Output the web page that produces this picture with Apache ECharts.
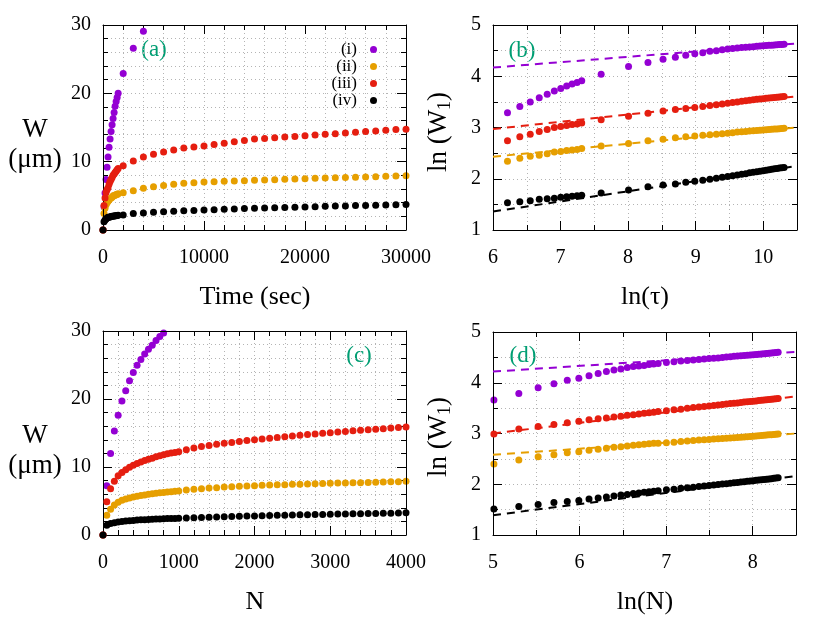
<!DOCTYPE html>
<html><head><meta charset="utf-8">
<script src="https://cdn.jsdelivr.net/npm/echarts@6/dist/echarts.min.js"></script>
<style>html,body{margin:0;padding:0;background:#fff}#c{width:830px;height:623px}</style>
</head><body><div id="c"></div>
<script>
// ---------- Panel (a): W (um) vs time (sec) ----------
const timeA = [0,100,200,300,400,500,600,700,800,900,1000,1100,1200,1300,1400,1500,
  2000,3000,4000,5000,6000,7000,8000,9000,10000,11000,12000,13000,14000,15000,
  16000,17000,18000,19000,20000,21000,22000,23000,24000,25000,26000,27000,28000,29000,30000];
const wA_i   = [0,3.4,5.4,7.4,9.2,10.7,12.1,13.3,14.4,15.4,16.3,17.2,18.1,18.8,19.4,20.0,22.9,26.6,29.1];
const wA_ii  = [0,2.4,3.2,3.7,4.0,4.2,4.4,4.6,4.7,4.8,5.0,5.0,5.1,5.2,5.2,5.3,
  5.45,5.75,6.1,6.34,6.5,6.7,6.83,6.93,7.03,7.07,7.12,7.17,7.22,7.27,7.32,7.37,7.42,7.47,7.51,7.56,7.61,7.66,7.68,7.71,7.76,7.81,7.85,7.9,7.95];
const wA_iii = [0,3.6,4.7,5.5,5.9,6.2,6.7,7.1,7.4,7.7,8.0,8.2,8.4,8.6,8.8,9.0,
  9.42,10.1,10.7,11.1,11.4,11.7,12.0,12.15,12.3,12.5,12.7,12.9,13.1,13.3,13.4,13.5,13.6,13.7,13.8,13.9,14.0,14.1,14.2,14.3,14.4,14.5,14.6,14.7,14.75];
const wA_iv  = [0,1.2,1.45,1.6,1.75,1.85,1.88,1.92,1.98,2.0,2.02,2.06,2.08,2.1,2.12,2.15,
  2.2,2.4,2.5,2.6,2.68,2.75,2.8,2.86,2.92,2.98,3.03,3.08,3.13,3.18,3.22,3.26,3.3,3.34,3.38,3.42,3.46,3.5,3.53,3.57,3.6,3.63,3.67,3.7,3.74];

// ---------- Panel (b): ln(W1) vs ln(tau) ----------
const tauB = [500,600,700,800,900,1000,1100,1200,1300,1400,1500,
  2000,3000,4000,5000,6000,7000,8000,9000,10000,11000,12000,13000,14000,15000,
  16000,17000,18000,19000,20000,21000,22000,23000,24000,25000,26000,27000,28000,29000,30000];
const lnB_i   = [3.29,3.41,3.50,3.58,3.65,3.71,3.76,3.81,3.85,3.88,3.91,
  4.04,4.19,4.27,4.33,4.37,4.41,4.44,4.46,4.49,4.50,4.515,4.53,4.54,4.55,4.56,4.565,4.57,4.578,4.585,4.59,4.595,4.60,4.603,4.606,4.61,4.614,4.618,4.621,4.625];
const lnB_ii  = [2.34,2.40,2.44,2.46,2.49,2.52,2.53,2.55,2.56,2.57,2.59,
  2.64,2.69,2.74,2.77,2.80,2.82,2.835,2.85,2.86,2.87,2.88,2.89,2.90,2.91,2.915,2.92,2.93,2.935,2.94,2.945,2.95,2.955,2.96,2.965,2.97,2.973,2.976,2.98,2.983];
const lnB_iii = [2.74,2.82,2.87,2.92,2.96,3.00,3.02,3.04,3.06,3.07,3.09,
  3.15,3.22,3.28,3.32,3.35,3.37,3.39,3.41,3.43,3.445,3.46,3.475,3.49,3.50,3.51,3.52,3.53,3.54,3.55,3.555,3.56,3.57,3.575,3.58,3.585,3.59,3.595,3.60,3.605];
const lnB_iv  = [1.53,1.55,1.57,1.60,1.61,1.62,1.64,1.65,1.66,1.67,1.68,
  1.72,1.78,1.845,1.88,1.90,1.93,1.95,1.97,1.99,2.01,2.03,2.045,2.06,2.075,2.09,2.10,2.115,2.125,2.135,2.145,2.155,2.165,2.175,2.185,2.195,2.20,2.21,2.215,2.22];
const fitXB = [6, 10.5];
const fitB_i = [4.17, 4.64], fitB_ii = [2.43, 3.0], fitB_iii = [2.97, 3.61], fitB_iv = [1.36, 2.25];

// ---------- Panel (c): W (um) vs N ----------
const nC = [0,50,100,150,200,250,300,350,400,450,500,550,600,650,700,750,800,850,900,950,1000,
  1100,1200,1300,1400,1500,1600,1700,1800,1900,2000,2100,2200,2300,2400,2500,2600,2700,2800,2900,3000,
  3100,3200,3300,3400,3500,3600,3700,3800,3900,4000];
const wC_i   = [0,7.25,12.0,15.3,17.6,19.7,21.2,22.7,23.9,24.95,25.8,26.6,27.3,27.9,28.6,29.2,29.7];
const wC_ii  = [0,2.9,3.8,4.4,4.8,5.1,5.3,5.45,5.6,5.7,5.8,5.9,6.0,6.07,6.14,6.2,6.26,6.32,6.37,6.42,6.47,
  6.62,6.71,6.81,6.91,6.96,7.06,7.11,7.16,7.21,7.26,7.3,7.35,7.38,7.4,7.45,7.48,7.5,7.55,7.58,7.6,
  7.63,7.65,7.67,7.7,7.72,7.75,7.79,7.82,7.84,7.89];
const wC_iii = [0,4.9,6.8,7.9,8.7,9.2,9.6,9.95,10.25,10.5,10.75,10.95,11.15,11.3,11.5,11.65,11.8,11.95,12.05,12.15,12.25,
  12.55,12.8,13.0,13.15,13.33,13.48,13.62,13.75,13.88,14.0,14.12,14.24,14.35,14.46,14.57,14.67,14.77,14.87,14.96,15.05,
  15.14,15.23,15.32,15.4,15.48,15.56,15.64,15.72,15.8,15.9];
const wC_iv  = [0,1.45,1.7,1.81,1.9,1.99,2.06,2.1,2.15,2.19,2.23,2.26,2.29,2.32,2.35,2.37,2.39,2.41,2.43,2.44,2.46,
  2.5,2.54,2.58,2.62,2.66,2.69,2.72,2.75,2.78,2.81,2.84,2.86,2.89,2.91,2.94,2.96,2.98,3.01,3.03,3.05,
  3.07,3.09,3.11,3.13,3.15,3.17,3.19,3.21,3.23,3.26];

// ---------- Panel (d): ln(W1) vs ln(N) ----------
const nD = [150,200,250,300,350,400,450,500,550,600,650,700,750,800,850,900,950,1000,
  1100,1200,1300,1400,1500,1600,1700,1800,1900,2000,2100,2200,2300,2400,2500,2600,2700,2800,2900,3000,
  3100,3200,3300,3400,3500,3600,3700,3800,3900,4000];
const lnD_i   = [3.66,3.79,3.90,3.98,4.05,4.09,4.14,4.18,4.22,4.25,4.27,4.30,4.32,4.33,4.34,4.36,4.37,4.38,
  4.40,4.415,4.43,4.44,4.45,4.46,4.47,4.48,4.485,4.49,4.50,4.505,4.51,4.52,4.525,4.53,4.535,4.54,4.545,4.55,
  4.555,4.56,4.565,4.57,4.575,4.58,4.585,4.59,4.595,4.60];
const lnD_ii  = [2.40,2.48,2.54,2.58,2.62,2.64,2.67,2.69,2.71,2.73,2.74,2.755,2.77,2.78,2.79,2.80,2.806,2.81,
  2.82,2.83,2.84,2.85,2.86,2.87,2.875,2.88,2.89,2.895,2.90,2.905,2.91,2.915,2.92,2.925,2.93,2.935,2.94,2.945,
  2.95,2.955,2.96,2.965,2.97,2.973,2.977,2.98,2.985,2.99];
const lnD_iii = [2.99,3.09,3.14,3.175,3.21,3.24,3.27,3.29,3.305,3.325,3.34,3.36,3.37,3.385,3.40,3.41,3.42,3.435,
  3.45,3.47,3.48,3.50,3.51,3.52,3.53,3.54,3.55,3.56,3.57,3.58,3.59,3.595,3.60,3.61,3.62,3.625,3.63,3.635,
  3.64,3.65,3.655,3.66,3.665,3.67,3.675,3.68,3.685,3.69];
const lnD_iv  = [1.51,1.56,1.60,1.64,1.66,1.68,1.71,1.73,1.75,1.77,1.79,1.80,1.82,1.83,1.84,1.85,1.86,1.87,
  1.89,1.90,1.92,1.93,1.94,1.955,1.965,1.975,1.985,1.995,2.005,2.01,2.02,2.03,2.035,2.045,2.05,2.06,2.065,2.07,
  2.08,2.085,2.09,2.095,2.10,2.105,2.11,2.12,2.125,2.13];
const fitXD = [5, 8.5];
const fitD_i = [4.22, 4.61], fitD_ii = [2.58, 3.0], fitD_iii = [3.0, 3.73], fitD_iv = [1.39, 2.16];

const seriesNames = ['(i)','(ii)','(iii)','(iv)'];

// ---------- chart ----------
const FONT = 'Liberation Serif';
const COL = ['#9400d3', '#e69f00', '#e51e10', '#000000'];
const TEAL = '#009e73';
const chart = echarts.init(document.getElementById('c'), null, {renderer: 'canvas'});

const grids = [
  {left: 103, top: 25, width: 303, height: 205},
  {left: 493, top: 25, width: 304, height: 205},
  {left: 103, top: 331, width: 303, height: 204},
  {left: 493, top: 332, width: 303, height: 203}
];
const axSpec = [
  {x: [0, 30000, 10000, 2000], y: [0, 30, 10, 2]},
  {x: [6, 10.5, 1, 0.5], y: [1, 5, 1, 0.5]},
  {x: [0, 4000, 1000, 200], y: [0, 30, 10, 2]},
  {x: [5, 8.5, 1, 0.5], y: [1, 5, 1, 0.5]}
];
function fmtInt(v) { return Math.abs(v - Math.round(v)) < 1e-9 ? String(Math.round(v)) : ''; }
const gridLine = {show: true, lineStyle: {type: [1, 3], color: '#b4b4b4', width: 1}};
const xAxes = [], yAxes = [];
axSpec.forEach((s, g) => {
  ['x', 'y'].forEach(dim => {
    const [mn, mx, maj, mnr] = s[dim];
    const arr = dim === 'x' ? xAxes : yAxes;
    const pMain = dim === 'x' ? 'bottom' : 'left';
    const pMir = dim === 'x' ? 'top' : 'right';
    const base = {type: 'value', gridIndex: g, min: mn, max: mx};
    arr.push(Object.assign({}, base, {
      position: pMain, interval: maj, z: 5,
      axisLine: {show: true, onZero: false, lineStyle: {color: '#000', width: 1}},
      axisTick: {show: true, inside: true, length: 9, lineStyle: {color: '#000', width: 1}},
      axisLabel: {show: true, fontFamily: FONT, fontSize: 20, color: '#000',
        margin: dim === 'x' ? 18 : 12, formatter: fmtInt},
      splitLine: {show: false}
    }));
    arr.push(Object.assign({}, base, {
      position: pMain, interval: mnr,
      axisLine: {show: false, onZero: false},
      axisTick: {show: true, inside: true, length: 5, lineStyle: {color: '#000', width: 1}},
      axisLabel: {show: false},
      splitLine: gridLine
    }));
    arr.push(Object.assign({}, base, {
      position: pMir, interval: maj, z: 5,
      axisLine: {show: true, onZero: false, lineStyle: {color: '#000', width: 1}},
      axisTick: {show: true, inside: true, length: 9, lineStyle: {color: '#000', width: 1}},
      axisLabel: {show: false},
      splitLine: {show: false}
    }));
    arr.push(Object.assign({}, base, {
      position: pMir, interval: mnr,
      axisLine: {show: false, onZero: false},
      axisTick: {show: true, inside: true, length: 5, lineStyle: {color: '#000', width: 1}},
      axisLabel: {show: false},
      splitLine: {show: false}
    }));
  });
});

const series = [];
function addScatter(g, xs, ys, k, xf) {
  const data = [];
  for (let i = 0; i < ys.length; i++) {
    if (ys[i] == null) continue;
    data.push([xf ? xf(xs[i]) : xs[i], ys[i]]);
  }
  series.push({
    name: seriesNames[k], type: 'scatter', xAxisIndex: 4 * g, yAxisIndex: 4 * g,
    data: data, symbol: 'circle', symbolSize: 7, clip: true, z: 3 + k,
    itemStyle: {color: COL[k], opacity: 1}
  });
}
function addFit(g, xs, ys, k) {
  series.push({
    name: 'fit' + g + k, type: 'line', xAxisIndex: 4 * g, yAxisIndex: 4 * g,
    data: xs.map((x, i) => [x, ys[i]]), symbol: 'none', clip: true, z: 8,
    lineStyle: {color: COL[k], width: 2, type: [8, 6]}
  });
}
const ln = Math.log;
[wA_i, wA_ii, wA_iii, wA_iv].forEach((ys, k) => addScatter(0, timeA, ys, k));
[lnB_i, lnB_ii, lnB_iii, lnB_iv].forEach((ys, k) => addScatter(1, tauB, ys, k, ln));
[fitB_i, fitB_ii, fitB_iii, fitB_iv].forEach((ys, k) => addFit(1, fitXB, ys, k));
[wC_i, wC_ii, wC_iii, wC_iv].forEach((ys, k) => addScatter(2, nC, ys, k));
[lnD_i, lnD_ii, lnD_iii, lnD_iv].forEach((ys, k) => addScatter(3, nD, ys, k, ln));
[fitD_i, fitD_ii, fitD_iii, fitD_iv].forEach((ys, k) => addFit(3, fitXD, ys, k));

function txt(x, y, text, size, color) {
  return {type: 'text', x: x, y: y, silent: true, style: {
    text: text, fontFamily: FONT, fontSize: size, fill: color || '#000',
    align: 'center', verticalAlign: 'middle', textAlign: 'center', textVerticalAlign: 'middle'
  }};
}
function lnW1(x, y) {
  return {type: 'text', x: x, y: y, rotation: Math.PI / 2, silent: true, style: {
    text: '{a|ln (W}{s|1}{a|)}', align: 'center', verticalAlign: 'middle',
    textAlign: 'center', textVerticalAlign: 'middle',
    rich: {
      a: {fontFamily: FONT, fontSize: 27, lineHeight: 30, fill: '#000', color: '#000'},
      s: {fontFamily: FONT, fontSize: 18, lineHeight: 18, verticalAlign: 'bottom', fill: '#000', color: '#000'}
    }
  }};
}
const graphic = [
  txt(35, 145, 'W\n(μm)', 27),
  txt(35, 451, 'W\n(μm)', 27),
  txt(255, 297, 'Time (sec)', 26),
  txt(645, 297, 'ln(τ)', 26),
  txt(255, 602, 'N', 26),
  txt(645, 602, 'ln(N)', 26),
  lnW1(439, 132),
  lnW1(439, 437),
  txt(154, 50, '(a)', 23, TEAL),
  txt(522, 51, '(b)', 23, TEAL),
  txt(359, 356, '(c)', 23, TEAL),
  txt(523, 356, '(d)', 23, TEAL)
];
graphic[0].style.lineHeight = 30;
graphic[1].style.lineHeight = 30;

chart.setOption({
  animation: false,
  backgroundColor: '#fff',
  grid: grids,
  xAxis: xAxes,
  yAxis: yAxes,
  legend: {
    data: seriesNames, orient: 'vertical', right: 448, top: 36, itemGap: 0,
    itemWidth: 7, itemHeight: 7, icon: 'circle', align: 'right', selectedMode: false,
    textStyle: {fontFamily: FONT, fontSize: 17, color: '#000', lineHeight: 16, padding: [0, 8, 0, 0]}
  },
  graphic: graphic,
  series: series
});
</script></body></html>
